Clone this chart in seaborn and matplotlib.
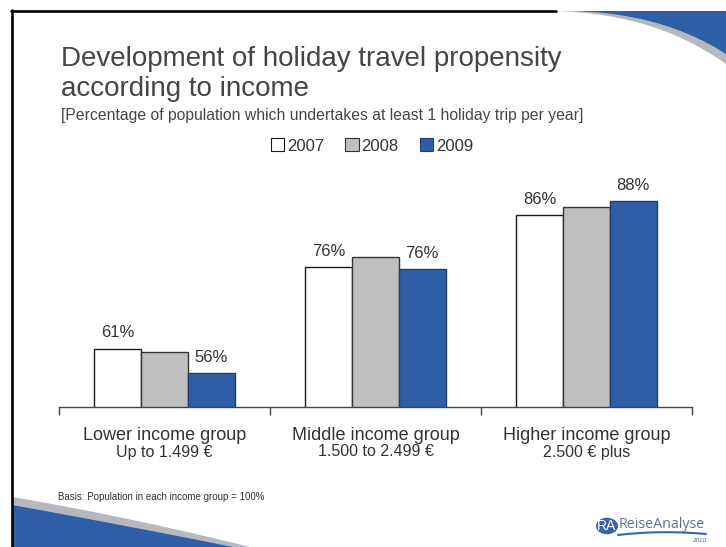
import matplotlib
matplotlib.use("Agg")
import matplotlib.pyplot as plt
import seaborn as sns
import pandas as pd
import numpy as np
from matplotlib.patches import Polygon, Circle, Patch
from matplotlib.lines import Line2D

# ---- data ----
groups = ["Lower income group", "Middle income group", "Higher income group"]
group_sub = ["Up to 1.499 €", "1.500 to 2.499 €", "2.500 € plus"]
years = ["2007", "2008", "2009"]
v2007 = [60.8, 75.9, 85.5]
v2008 = [60.1, 77.7, 87.0]
v2009 = [56.3, 75.5, 88.1]
labels2007 = ["61%", "76%", "86%"]
labels2009 = ["56%", "76%", "88%"]

sns.set_theme(style="white")
plt.rcParams['font.family'] = ['Liberation Sans', 'DejaVu Sans']

W, H = 726, 547
fig = plt.figure(figsize=(W / 100, H / 100), dpi=100)

def fx(x):
    return x / W

def fy(y):
    return 1 - y / H

df = pd.DataFrame({
    "group": np.repeat(groups, 3),
    "year": years * 3,
    "value": [v for trip in zip(v2007, v2008, v2009) for v in trip],
})

colors = ["#FFFFFF", "#BFBFBF", "#2E5FA6"]
edges = ["#1A1A1A", "#333333", "#1F3F70"]

ax = fig.add_axes([fx(59), fy(407), fx(692) - fx(59), fy(180.2) - fy(407)])
sns.barplot(data=df, x="group", y="value", hue="year", palette=colors,
            width=0.665, gap=0, linewidth=1.0, edgecolor="#222222",
            legend=False, ax=ax, saturation=1)
for cont, ec in zip(ax.containers, edges):
    for p in cont:
        p.set_edgecolor(ec)

ax.set_ylim(50, 92)
ax.set_xlim(-0.5, 2.5)
ax.set_yticks([])
ax.set_xticks([-0.5, 0.5, 1.5, 2.5])
ax.set_xticklabels([])
ax.tick_params(axis="x", direction="out", length=6, width=1, color="#444444", bottom=True)
for s in ["top", "right", "left"]:
    ax.spines[s].set_visible(False)
ax.spines["bottom"].set_color("#444444")
ax.spines["bottom"].set_linewidth(1)
ax.set_xlabel("")
ax.set_ylabel("")
ax.patch.set_alpha(0)

txtc = "#333333"
for cont, labs in [(ax.containers[0], labels2007), (ax.containers[2], labels2009)]:
    for p, lab in zip(cont, labs):
        ax.annotate(lab, (p.get_x() + p.get_width() / 2, p.get_height()),
                    xytext=(0, 6), textcoords="offset points",
                    ha="center", va="bottom", fontsize=12, color=txtc)

# category labels
centers = [164.5, 375.5, 586.5]
for c, g, s in zip(centers, groups, group_sub):
    fig.text(fx(c), fy(440.5), g, ha="center", va="baseline", fontsize=13, color=txtc)
    fig.text(fx(c), fy(456.5), s, ha="center", va="baseline", fontsize=11.5, color=txtc)

# titles
titc = "#454545"
fig.text(fx(61), fy(65.5), "Development of holiday travel propensity", ha="left", va="baseline",
         fontsize=20, color=titc)
fig.text(fx(61), fy(95.5), "according to income", ha="left", va="baseline",
         fontsize=20, color=titc)
fig.text(fx(61), fy(120), "[Percentage of population which undertakes at least 1 holiday trip per year]",
         ha="left", va="baseline", fontsize=11.3, color=titc)

# legend
handles = [Patch(facecolor=c, edgecolor=e, linewidth=0.8) for c, e in zip(colors, edges)]
fig.legend(handles, years, loc="center", bbox_to_anchor=(fx(372), fy(146)), ncol=3,
           frameon=False, fontsize=12, handlelength=0.8, handleheight=0.8,
           handletextpad=0.15, columnspacing=1.3, labelcolor=txtc)

fig.text(fx(58), fy(500), "Basis: Population in each income group = 100%", ha="left",
         va="baseline", fontsize=7, color="#333333")

# ---- slide decorations ----
def bez(p0, p1, p2, n=50):
    t = np.linspace(0, 1, n)[:, None]
    p0, p1, p2 = map(np.array, (p0, p1, p2))
    return (1 - t) ** 2 * p0 + 2 * (1 - t) * t * p1 + t ** 2 * p2

def to_fig(pts):
    pts = np.asarray(pts, dtype=float)
    return np.column_stack([pts[:, 0] / W, 1 - pts[:, 1] / H])

# top-right swoosh
gray_curve = bez((553, 11), (655, 13), (726, 64))
blue_curve = bez((572, 11), (662, 13), (726, 54))
gpoly = np.vstack([gray_curve, [(726, 11)]])
bpoly = np.vstack([blue_curve, [(726, 11)]])
fig.add_artist(Polygon(to_fig(gpoly), closed=True, transform=fig.transFigure,
                       facecolor="#B5B8BE", edgecolor="none"))
fig.add_artist(Polygon(to_fig(bpoly), closed=True, transform=fig.transFigure,
                       facecolor="#2E5FA6", edgecolor="none"))

# bottom-left swoosh
g2 = bez((12, 497), (125, 516), (250, 547))
b2 = bez((12, 505), (118, 524), (233, 547))
gpoly2 = np.vstack([g2, [(12, 547)]])
bpoly2 = np.vstack([b2, [(12, 547)]])
fig.add_artist(Polygon(to_fig(gpoly2), closed=True, transform=fig.transFigure,
                       facecolor="#B5B8BE", edgecolor="none"))
fig.add_artist(Polygon(to_fig(bpoly2), closed=True, transform=fig.transFigure,
                       facecolor="#2E5FA6", edgecolor="none"))

# black border lines
fig.add_artist(Line2D([fx(11.5), fx(11.5)], [fy(10), fy(547)], transform=fig.transFigure,
                      color="black", linewidth=1.9))
fig.add_artist(Line2D([fx(10.5), fx(556)], [fy(11), fy(11)], transform=fig.transFigure,
                      color="black", linewidth=1.9))

# logo
fig.add_artist(Circle((fx(607), fy(526)), 11 / W, transform=fig.transFigure,
                      facecolor="#3B64AE", edgecolor="none"))
fig.text(fx(607), fy(526.5), "RA", ha="center", va="center", fontsize=10, color="white",
         family=["Liberation Sans Narrow", "Liberation Sans", "DejaVu Sans"])
fig.text(fx(619), fy(525), "ReiseAnalyse", ha="left", va="center", fontsize=10.3,
         color="#5A6E96", family=["Open Sans", "DejaVu Sans"])
sw = bez((618, 535), (660, 530), (706, 534))
fig.add_artist(Line2D(sw[:, 0] / W, 1 - sw[:, 1] / H, transform=fig.transFigure,
                      color="#3B64AE", linewidth=1.5))
fig.text(fx(706), fy(541), "2010", ha="right", va="center", fontsize=4.5,
         color="#3B64AE", style="italic")

fig.savefig("out.png", dpi=100)
